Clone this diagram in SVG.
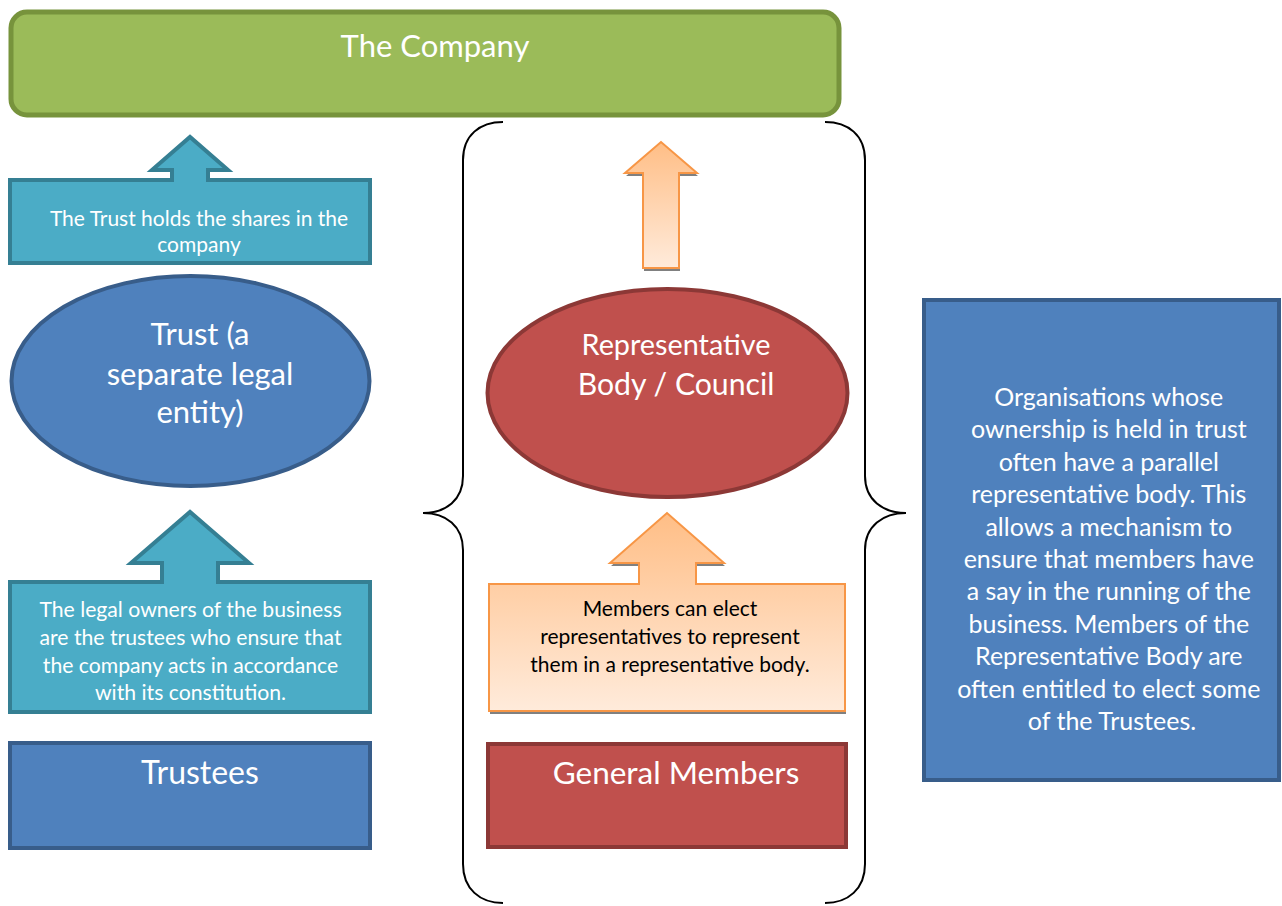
<svg xmlns="http://www.w3.org/2000/svg" width="1282" height="906" viewBox="0 0 1282 906">
  <style>
    text { font-family: Lato, "Liberation Sans", sans-serif; text-anchor: middle; }
    .w { fill: #ffffff; }
    .k { fill: #000000; }
    .green { fill: #9BBB59; stroke: #77933C; stroke-width: 5; }
    .blue { fill: #4F81BD; stroke: #385D8A; stroke-width: 4; }
    .aqua { fill: #4BACC6; stroke: #357F93; stroke-width: 4; stroke-linejoin: miter; }
    .red { fill: #C0504D; stroke: #8C3836; stroke-width: 4; }
    .orange { fill: url(#peach); stroke: #F79646; stroke-width: 2; }
    .shadow { fill: #808080; }
    .brace { fill: none; stroke: #000000; stroke-width: 2; }
  </style>
  <defs>
    <linearGradient id="peach" x1="0" y1="0" x2="0" y2="1">
      <stop offset="0" stop-color="#FFBE86"/>
      <stop offset="1" stop-color="#FFEBDB"/>
    </linearGradient>
  </defs>

  <rect width="1282" height="906" fill="#ffffff"/>

  <!-- Top company bar -->
  <g id="company">
    <rect class="green" x="11" y="12" width="828" height="103" rx="16" ry="16"/>
    <text class="w" x="435" y="57" font-size="31">The Company</text>
  </g>

  <!-- Trust holds shares callout -->
  <g id="trust-shares">
    <path class="aqua" d="M10,180 H172 V170 H152 L190,137 L228,170 H208 V180 H370 V263 H10 Z"/>
    <text class="w" font-size="21"><tspan x="199" y="226">The Trust holds the shares in the</tspan><tspan x="199" y="252">company</tspan></text>
  </g>

  <!-- Trust ellipse -->
  <g id="trust">
    <ellipse class="blue" cx="190.5" cy="381" rx="179" ry="105"/>
    <text class="w" font-size="31"><tspan x="200" y="345">Trust (a</tspan><tspan x="200" y="385">separate legal</tspan><tspan x="200" y="423">entity)</tspan></text>
  </g>

  <!-- Legal owners callout -->
  <g id="legal-owners">
    <path class="aqua" d="M10,582 H162 V563 H131 L190,512 L249,563 H218 V582 H370 V712 H10 Z"/>
    <text class="w" font-size="21.2"><tspan x="190.5" y="617">The legal owners of the business</tspan><tspan x="190.5" y="645">are the trustees who ensure that</tspan><tspan x="190.5" y="673">the company acts in accordance</tspan><tspan x="190.5" y="700">with its constitution.</tspan></text>
  </g>

  <!-- Trustees -->
  <g id="trustees">
    <rect class="blue" x="10" y="743" width="360" height="105"/>
    <text class="w" x="200" y="784" font-size="32">Trustees</text>
  </g>

  <!-- Representative body ellipse -->
  <g id="rep-body">
    <ellipse class="red" cx="667.5" cy="393" rx="180" ry="104"/>
    <text class="w"><tspan x="676" y="355" font-size="28.8">Representative</tspan><tspan x="676" y="395" font-size="30.2">Body / Council</tspan></text>
  </g>

  <!-- Members elect callout -->
  <g id="members-elect">
    <path class="shadow" transform="translate(1,3)" d="M489,584 H639 V563 H610 L667,513 L724,563 H696 V584 H845 V711 H489 Z"/>
    <path class="orange" d="M489,584 H639 V563 H610 L667,513 L724,563 H696 V584 H845 V711 H489 Z"/>
    <text class="k" font-size="21"><tspan x="670" y="616">Members can elect</tspan><tspan x="670" y="644">representatives to represent</tspan><tspan x="670" y="672">them in a representative body.</tspan></text>
  </g>

  <!-- General members -->
  <g id="general-members">
    <rect class="red" x="488" y="744" width="358" height="103"/>
    <text class="w" x="676" y="784" font-size="31.5">General Members</text>
  </g>

  <!-- Explanatory note -->
  <g id="note">
    <rect class="blue" x="924" y="300" width="355" height="480"/>
    <text class="w" font-size="25">
      <tspan x="1112" y="406">Organisations whose</tspan>
      <tspan x="1112" y="438.4">ownership is held in trust</tspan>
      <tspan x="1112" y="470.8">often have a parallel</tspan>
      <tspan x="1112" y="503.2">representative body. This</tspan>
      <tspan x="1112" y="535.6">allows a mechanism to</tspan>
      <tspan x="1112" y="568">ensure that members have</tspan>
      <tspan x="1112" y="600.4">a say in the running of the</tspan>
      <tspan x="1112" y="632.8">business. Members of the</tspan>
      <tspan x="1112" y="665.2">Representative Body are</tspan>
      <tspan x="1112" y="697.6">often entitled to elect some</tspan>
      <tspan x="1112" y="730">of the Trustees.</tspan>
    </text>
  </g>

  <!-- Curly braces around the representative column -->
  <g id="braces">
    <path class="brace" d="M503,122 C480,122 463,135 463,160 V476 C463,500 446,513 423,513 C446,513 463,526 463,550 V864 C463,889 480,903 503,903"/>
    <path class="brace" d="M825,122 C848,122 865,135 865,160 V476 C865,500 883,513 906,513 C883,513 865,526 865,550 V864 C865,889 848,903 825,903"/>
  </g>

  <!-- Connectors -->
  <g id="connectors">
    <path class="shadow" transform="translate(1,3)" d="M643,268 V173 H625 L661,142 L697,173 H679 V268 Z"/>
    <path class="orange" d="M643,268 V173 H625 L661,142 L697,173 H679 V268 Z"/>
  </g>
</svg>
